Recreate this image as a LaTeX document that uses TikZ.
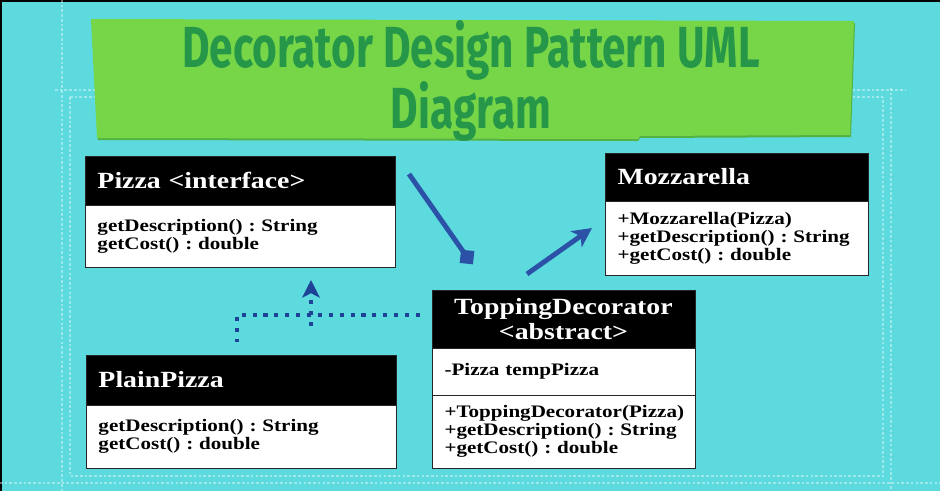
\documentclass[tikz,border=0pt]{standalone}
\usepackage{fontspec}
\newfontfamily\umlfont{Liberation Serif}[FakeStretch=1.2]
\newfontfamily\bannerfont{Fira Sans}[FakeStretch=0.73]
\usetikzlibrary{arrows.meta,positioning}
\definecolor{bgcyan}{RGB}{92,218,222}
\definecolor{bannergreen}{RGB}{118,214,72}
\definecolor{bannershade}{RGB}{84,178,66}
\definecolor{titlegreen}{RGB}{38,150,72}
\definecolor{arrowblue}{RGB}{44,82,168}
\definecolor{dotblue}{RGB}{30,66,150}
\frenchspacing

\begin{document}
\begin{tikzpicture}[x=0.02cm, y=-0.02cm,
    umlhead/.style={rectangle, draw=black!85, fill=black, text=white,
        font=\umlfont\bfseries\fontsize{13.2}{14.2}\selectfont,
        inner xsep=0.25cm, inner ysep=0pt, outer sep=0pt, align=left,
        anchor=north west},
    umlbody/.style={rectangle, draw=black!85, fill=white, text=black,
        font=\umlfont\bfseries\fontsize{10}{10.2}\selectfont,
        inner xsep=0.25cm, inner ysep=0pt, outer sep=0pt, align=left},
    bannertxt/.style={text=titlegreen, align=center,
        font=\bannerfont\bfseries\fontsize{33}{25.5}\selectfont},
    deco/.style={draw=white, line width=1.2pt, opacity=0.4,
        dash pattern=on 1.5pt off 1.2pt},
    link/.style={draw=arrowblue, line width=2.8pt},
    aggsq/.style={rectangle, fill=arrowblue, minimum size=7.6pt, inner sep=0pt,
        outer sep=0pt, rotate=-6},
    dotlink/.style={draw=dotblue, line width=2.3pt, dash pattern=on 2.3pt off 3.9pt},
    >=Stealth
]
\useasboundingbox (0,0) rectangle (940,491);
% background and frame lines
\fill[black] (0,0) rectangle (940,491);
\fill[bgcyan] (2,2) rectangle (940,491);
\draw[deco] (62,0) -- (62,491);
\draw[deco] (70,97) -- (70,476) -- (883,476) -- (883,97);
\draw[deco] (891,88) -- (891,491);
\draw[deco] (0,483) -- (940,483);
\draw[deco] (55,90) -- (95,90);
\draw[deco] (70,97) -- (95,97);
\draw[deco] (848,90) -- (905,90);
\draw[deco] (848,97) -- (883,97);

% banner
\fill[bannershade] (93,21) -- (855,23) -- (851,137) -- (640,138) -- (638,141) -- (98,140) -- cycle;
\fill[bannergreen] (91,19) -- (854,21) -- (850,135) -- (640,136) -- (638,139) -- (97,138) -- cycle;
\node[bannertxt] (banner) at (471,81) {Decorator Design Pattern UML\\Diagram};

% classes
\node[umlhead, text width=5.7cm, minimum height=0.98cm] (pizzaH) at (85,156) {Pizza <interface>};
\node[umlbody, below=0pt of pizzaH, text width=5.7cm, minimum height=1.24cm] (pizzaB)
    {getDescription() : String\\getCost() : double};

\node[umlhead, text width=4.76cm, minimum height=0.96cm] (mozzH) at (605,153) {Mozzarella};
\node[umlbody, below=0pt of mozzH, text width=4.76cm, minimum height=1.48cm] (mozzB)
    {+Mozzarella(Pizza)\\+getDescription() : String\\+getCost() : double};

\node[umlhead, text width=5.7cm, minimum height=1.0cm] (plainH) at (86,355) {PlainPizza};
\node[umlbody, below=0pt of plainH, text width=5.7cm, minimum height=1.26cm] (plainB)
    {getDescription() : String\\getCost() : double};

\node[umlhead, align=center, text width=4.76cm, minimum height=1.16cm] (topH) at (432,290)
    {ToppingDecorator\\<abstract>};
\node[umlbody, below=0pt of topH, text width=4.76cm, minimum height=0.94cm] (topA)
    {-Pizza tempPizza};
\node[umlbody, below=0pt of topA, text width=4.76cm, minimum height=1.46cm] (topM)
    {+ToppingDecorator(Pizza)\\+getDescription() : String\\+getCost() : double};

% connectors
\coordinate (aggFrom) at (409,174);
\node[aggsq] (aggTip) at (467,257) {};
\coordinate (decFrom) at (527,274);
\coordinate (decTo) at (592,228);
\coordinate (implFrom) at (420,315);
\coordinate (implBend) at (237,315);
\coordinate (implTo) at (237,342);
\coordinate (genFrom) at (311,326);
\coordinate (genTo) at (311,280);
\draw[link] (aggFrom) -- (aggTip.center);
\draw[link, -{Stealth[length=11pt,width=11pt,inset=3pt]}] (decFrom) -- (decTo);
\draw[dotlink] (implFrom) -- (implBend) -- (implTo);
\draw[dotlink, -{Stealth[length=10pt,width=10pt,inset=2.5pt]}] (genFrom) -- (genTo);
\end{tikzpicture}
\end{document}
